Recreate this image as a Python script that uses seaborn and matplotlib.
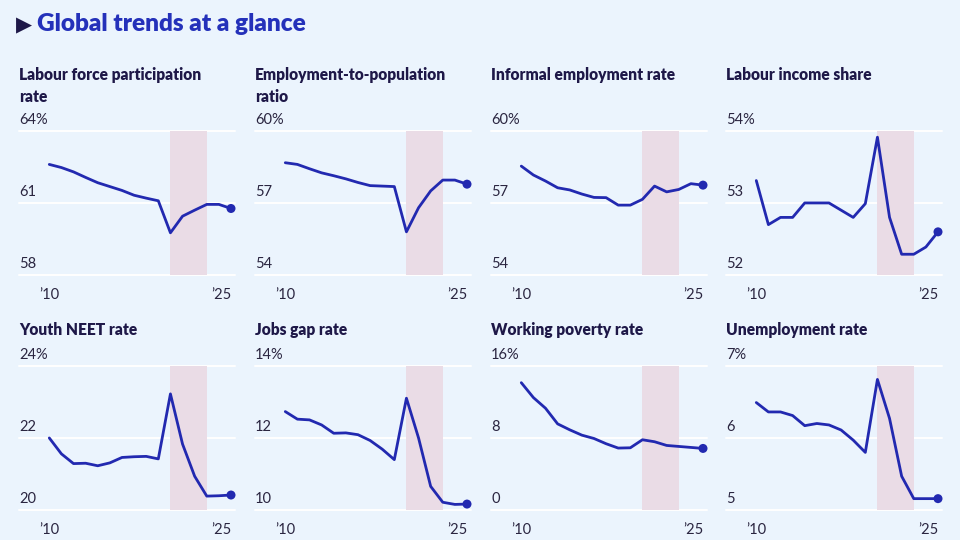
import matplotlib
matplotlib.use("Agg")
import matplotlib.pyplot as plt
import pandas as pd
import seaborn as sns

# data
years = list(range(2010, 2026))

labour_force = [62.6, 62.47, 62.29, 62.06, 61.84, 61.68, 61.52, 61.32,
                61.2, 61.09, 59.76, 60.45, 60.7, 60.94, 60.94, 60.77]
employment_pop = [58.67, 58.6, 58.42, 58.25, 58.13, 58.0, 57.85, 57.72,
                  57.7, 57.68, 55.8, 56.8, 57.5, 57.95, 57.95, 57.78]
informal_emp = [58.53, 58.16, 57.91, 57.63, 57.54, 57.37, 57.23, 57.22,
                56.91, 56.91, 57.15, 57.7, 57.46, 57.56, 57.8, 57.74]
income_share = [53.31, 52.7, 52.8, 52.8, 53.0, 53.0, 53.0, 52.9,
                52.8, 52.99, 53.91, 52.8, 52.29, 52.29, 52.39, 52.6]
youth_neet = [22.0, 21.56, 21.29, 21.3, 21.23, 21.31, 21.46, 21.48,
              21.49, 21.42, 23.22, 21.83, 20.94, 20.39, 20.4, 20.42]
jobs_gap = [12.73, 12.52, 12.5, 12.36, 12.13, 12.14, 12.09, 11.93,
            11.69, 11.4, 13.1, 12.0, 10.66, 10.22, 10.16, 10.17]
working_poverty = [14.12, 12.47, 11.29, 9.56, 8.9, 8.31, 7.94, 7.36,
                   6.88, 6.91, 7.8, 7.58, 7.17, 7.06, 6.95, 6.84]
unemployment = [6.49, 6.36, 6.36, 6.31, 6.17, 6.2, 6.18, 6.11,
                5.97, 5.8, 6.81, 6.27, 5.47, 5.16, 5.16, 5.16]

panel_titles = ["Labour force participation\nrate", "Employment-to-population\nratio",
                "Informal employment rate", "Labour income share",
                "Youth NEET rate", "Jobs gap rate", "Working poverty rate",
                "Unemployment rate"]
panel_values = [labour_force, employment_pop, informal_emp, income_share,
                youth_neet, jobs_gap, working_poverty, unemployment]
panel_ticks = [[58, 61, 64], [54, 57, 60], [54, 57, 60], [52, 53, 54],
               [20, 22, 24], [10, 12, 14], [0, 8, 16], [5, 6, 7]]
year_labels = ["\u201910", "\u201925"]
shade_start, shade_end = 2020, 2023

BG = "#EBF4FD"
LINE = "#2229B0"
SHADE = "#EADCE6"
NAVY = "#1E1848"
TITLE_BLUE = "#2431BA"
TEXT = "#2A2540"

sns.set_theme(style="white")
plt.rcParams["font.family"] = ["Lato", "DejaVu Sans"]

W, H = 960, 540
fig = plt.figure(figsize=(9.6, 5.4), dpi=100, facecolor=BG)

# main title with the small triangle marker
fig.text(16 / W, 1 - 31 / H, "\u25B6", fontsize=15, color=NAVY,
         family=["DejaVu Sans"], va="baseline", ha="left")
fig.text(37 / W, 1 - 31 / H, "Global trends at a glance", fontsize=17.6,
         fontweight="heavy", color=TITLE_BLUE, va="baseline", ha="left")

col_left = [19, 255, 491, 726]
row_top = [130.7, 365.7]
title_top = [67, 322]
ax_w, ax_h = 216, 144.5

for i, (title, vals, ticks) in enumerate(zip(panel_titles, panel_values, panel_ticks)):
    r, c = divmod(i, 4)
    left, top = col_left[c], row_top[r]
    ax = fig.add_axes([left / W, 1 - (top + ax_h) / H, ax_w / W, ax_h / H])
    ax.set_facecolor(BG)

    df = pd.DataFrame({"year": years, "value": vals})

    for t in ticks:
        ax.axhline(t, color="white", lw=1.4, zorder=0, clip_on=False)
    ax.axvspan(shade_start, shade_end, color=SHADE, lw=0, zorder=1)
    sns.lineplot(data=df, x="year", y="value", ax=ax, color=LINE, lw=2.0, zorder=3)
    ax.scatter(df["year"].iloc[-1], df["value"].iloc[-1], s=42, color=LINE,
               zorder=4, clip_on=False, edgecolor="none")

    ax.set_xlim(2007.5, 2025.33)
    ax.set_ylim(ticks[0], ticks[-1])
    for s in ax.spines.values():
        s.set_visible(False)
    ax.set_xlabel("")
    ax.set_ylabel("")
    ax.set_yticks([])
    ax.set_xticks([years[0], years[-1]])
    ax.set_xticklabels(year_labels, fontsize=10.5, color=TEXT)
    ax.tick_params(axis="x", length=0, pad=9)
    ax.get_xticklabels()[1].set_ha("right")

    for j, t in enumerate(ticks):
        lab = f"{t}%" if j == len(ticks) - 1 else f"{t}"
        ax.annotate(lab, xy=(0, t), xycoords=("axes fraction", "data"),
                    xytext=(0, 3), textcoords="offset points",
                    fontsize=10.5, color=TEXT, ha="left", va="bottom",
                    annotation_clip=False)

    fig.text(left / W, 1 - title_top[r] / H, title, fontsize=11.2,
             fontweight="heavy", color=NAVY, ha="left", va="top",
             linespacing=1.45)

fig.savefig("out.png", dpi=100, facecolor=BG)
